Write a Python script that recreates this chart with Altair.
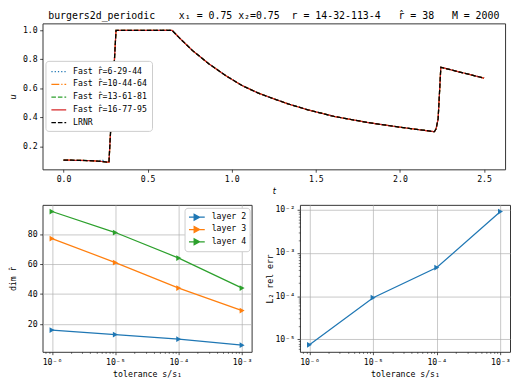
import altair as alt
import pandas as pd

# ---------------- data ----------------
t_vals = [0.0, 0.05, 0.10, 0.15, 0.20, 0.23, 0.25, 0.27, 0.312, 0.35, 0.40, 0.45,
          0.50, 0.55, 0.60, 0.645, 0.70, 0.767, 0.865, 0.963, 1.061, 1.159, 1.267,
          1.335, 1.453, 1.61, 1.806, 2.0, 2.10, 2.205, 2.215, 2.227, 2.243, 2.30,
          2.40, 2.50]
u_lrnr = [0.104, 0.103, 0.102, 0.100, 0.097, 0.094, 0.091, 0.090, 1.0, 1.0, 1.0, 1.0,
          1.0, 1.0, 1.0, 1.0, 0.935, 0.86, 0.768, 0.688, 0.619, 0.566, 0.52,
          0.492, 0.451, 0.405, 0.364, 0.331, 0.316, 0.300, 0.320, 0.390, 0.745, 0.728,
          0.699, 0.670]
u_fast_1 = [0.104, 0.103, 0.101, 0.100, 0.098, 0.105, 0.092, 0.090, 1.0, 1.0, 1.0, 1.0,
            1.0, 1.002, 1.003, 1.0, 0.935, 0.86, 0.768, 0.688, 0.619, 0.566, 0.52,
            0.492, 0.451, 0.405, 0.364, 0.331, 0.316, 0.300, 0.320, 0.390, 0.745, 0.728,
            0.699, 0.670]
u_fast_2 = list(u_lrnr)
u_fast_3 = list(u_lrnr)
u_fast_4 = list(u_lrnr)

series_names = ["Fast r̂=6-29-44", "Fast r̂=10-44-64", "Fast r̂=13-61-81",
                "Fast r̂=16-77-95", "LRNR"]
series_values = [u_fast_1, u_fast_2, u_fast_3, u_fast_4, u_lrnr]
series_colors = ["#1f77b4", "#ff7f0e", "#2ca02c", "#d62728", "#000000"]
series_dash = [[1.25, 2.05], [8, 2, 1.25, 2], [4.6, 2], [1, 0], [4.6, 2]]

tolerance = [1e-6, 1e-5, 1e-4, 1e-3]
layer_names = ["layer 2", "layer 3", "layer 4"]
dim_layer2 = [16, 13, 10, 6]
dim_layer3 = [77, 61, 44, 29]
dim_layer4 = [95, 81, 64, 44]
layer_colors = ["#1f77b4", "#ff7f0e", "#2ca02c"]
rel_err = [7.5e-6, 9.2e-5, 4.6e-4, 9.1e-3]

NB = "\u00a0"
title_text = ("burgers2d_periodic" + NB * 4 + "x₁" + NB + "=" + NB + "0.75" + NB + "x₂=0.75"
              + NB * 2 + "r" + NB + "=" + NB + "14-32-113-4" + NB * 3 + "r̂" + NB + "="
              + NB + "38" + NB * 3 + "M" + NB + "=" + NB + "2000")

# ---------------- frames ----------------
top_rows = []
for name, vals in zip(series_names, series_values):
    for t, u in zip(t_vals, vals):
        top_rows.append({"series": name, "t": t, "u": u})
df_top = pd.DataFrame(top_rows)

bl_rows = []
for name, vals in zip(layer_names, [dim_layer2, dim_layer3, dim_layer4]):
    for s, d in zip(tolerance, vals):
        bl_rows.append({"layer": name, "tol": s, "dim": d})
df_bl = pd.DataFrame(bl_rows)

df_br = pd.DataFrame({"tol": tolerance, "err": rel_err})

MONO = "DejaVu Sans Mono"
FS = 8.3

# ---------------- top chart ----------------
legend_top = alt.Legend(title=None, orient="none", legendX=3, legendY=38,
                        fillColor="white", strokeColor="#cccccc",
                        cornerRadius=3, padding=5, labelFont=MONO,
                        labelFontSize=FS, symbolType="M-1,0H2",
                        symbolSize=100, symbolStrokeWidth=1.25,
                        rowPadding=2.9, labelOffset=11)
top = alt.Chart(df_top).mark_line(strokeWidth=1.25).encode(
    x=alt.X("t:Q", scale=alt.Scale(domain=[-0.125, 2.625], nice=False, zero=False),
            axis=alt.Axis(values=[0, 0.5, 1.0, 1.5, 2.0, 2.5], format=".1f", title="t",
                          titleFont="DejaVu Sans", titleFontStyle="italic", grid=False)),
    y=alt.Y("u:Q", scale=alt.Scale(domain=[0.04, 1.048], nice=False, zero=False),
            axis=alt.Axis(values=[0.2, 0.4, 0.6, 0.8, 1.0], format=".1f", title="u",
                          titleFont="DejaVu Sans", titleFontStyle="italic",
                          grid=False, minExtent=22, maxExtent=22, titlePadding=3)),
    color=alt.Color("series:N", scale=alt.Scale(domain=series_names, range=series_colors),
                    legend=legend_top),
    strokeDash=alt.StrokeDash("series:N",
                              scale=alt.Scale(domain=series_names, range=series_dash),
                              legend=legend_top),
).properties(
    width=469, height=148,
    title=alt.TitleParams(text=title_text, font=MONO, fontSize=10, fontWeight="normal",
                          offset=2, frame="group", anchor="middle", color="black"))

# ---------------- log axis helpers ----------------
is_major = "abs(log(datum.value)/LN10 - round(log(datum.value)/LN10)) < 0.001"
sup_expr = ("round(log(datum.value)/LN10) == -6 ? '10⁻⁶' : "
            "round(log(datum.value)/LN10) == -5 ? '10⁻⁵' : "
            "round(log(datum.value)/LN10) == -4 ? '10⁻⁴' : "
            "round(log(datum.value)/LN10) == -3 ? '10⁻³' : "
            "round(log(datum.value)/LN10) == -2 ? '10⁻²' : ''")
label_expr = f"({is_major}) ? ({sup_expr}) : ''"


def log_values(lo, hi):
    vals = []
    for e in range(-8, 0):
        for m in range(1, 10):
            v = float(f"{m}e{e}")
            if lo <= v <= hi:
                vals.append(v)
    return vals


x_lo, x_hi = 10 ** -6.15, 10 ** -2.85
x_ticks = log_values(x_lo, x_hi)


def log_axis(title, values, **kw):
    return alt.Axis(title=title, values=values, labelExpr=label_expr, labelOverlap=False,
                    tickSize={"condition": {"test": is_major, "value": 2.9}, "value": 1.7},
                    tickWidth={"condition": {"test": is_major, "value": 0.7}, "value": 0.5},
                    gridOpacity={"condition": {"test": is_major, "value": 1}, "value": 0},
                    grid=True, **kw)


# ---------------- bottom left ----------------
legend_bl = alt.Legend(title=None, orient="none", legendX=144, legendY=3,
                       fillColor="white", strokeColor="#cccccc", cornerRadius=3,
                       padding=3.5, labelFont=MONO, labelFontSize=FS,
                       symbolType="M-1,0H2.2M0.05,-0.6L1.15,0L0.05,0.6Z",
                       symbolSize=100, symbolStrokeWidth=1.25, rowPadding=0.5,
                       labelOffset=12)
bl = alt.Chart(df_bl).mark_line(
    strokeWidth=1.25,
    point=alt.OverlayMarkDef(shape="triangle-right", filled=True, size=34, opacity=1),
).encode(
    x=alt.X("tol:Q", scale=alt.Scale(type="log", domain=[x_lo, x_hi], nice=False),
            axis=log_axis("tolerance s/s₁", x_ticks)),
    y=alt.Y("dim:Q", scale=alt.Scale(domain=[1.55, 99.45], nice=False, zero=False),
            axis=alt.Axis(title="dim r̂", values=[20, 40, 60, 80], grid=True,
                          minExtent=22, maxExtent=22, titlePadding=3)),
    color=alt.Color("layer:N", scale=alt.Scale(domain=layer_names, range=layer_colors),
                    legend=legend_bl),
).properties(width=212, height=149)

# ---------------- bottom right ----------------
y_lo, y_hi = 10 ** -5.288, 10 ** -1.886
y_ticks = log_values(y_lo, y_hi)
br = alt.Chart(df_br).mark_line(
    strokeWidth=1.25, color="#1f77b4",
    point=alt.OverlayMarkDef(shape="triangle-right", filled=True, size=34, opacity=1,
                             color="#1f77b4"),
).encode(
    x=alt.X("tol:Q", scale=alt.Scale(type="log", domain=[x_lo, x_hi], nice=False),
            axis=log_axis("tolerance s/s₁", x_ticks)),
    y=alt.Y("err:Q", scale=alt.Scale(type="log", domain=[y_lo, y_hi], nice=False),
            axis=log_axis("L₂ rel err", y_ticks, minExtent=24, maxExtent=24,
                          titlePadding=2)),
).properties(width=213, height=149)

bottom = alt.hconcat(bl, br, spacing=12).resolve_scale(
    color="independent").resolve_legend(color="independent")

chart = alt.vconcat(top, bottom, spacing=8).resolve_scale(
    color="independent", strokeDash="independent"
).resolve_legend(color="independent", strokeDash="independent").properties(
    padding={"left": 0, "top": 0, "right": 0, "bottom": 0}
).configure_view(stroke="#333333", strokeWidth=1).configure_axis(
    domain=False, labelFont=MONO, labelFontSize=FS, labelColor="black",
    tickColor="black", tickSize=2.9, tickWidth=0.7, labelPadding=2.5,
    titleFont=MONO, titleFontSize=FS, titleFontWeight="normal", titleColor="black",
    gridColor="#b0b0b0", gridWidth=0.7, labelFlush=False
)

chart.save("out.html", embed_options={"renderer": "svg", "actions": False})
